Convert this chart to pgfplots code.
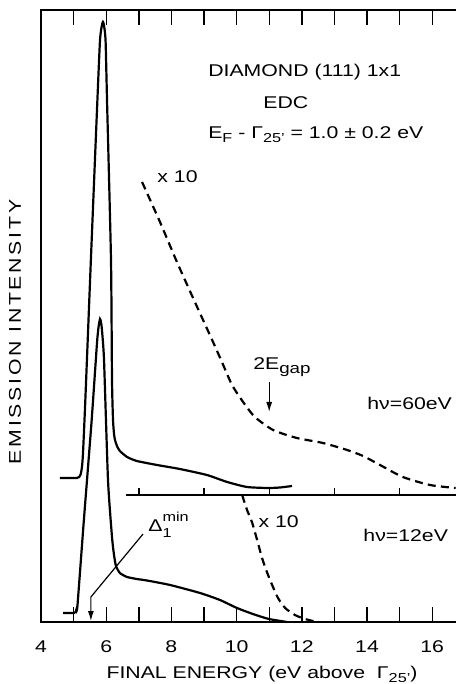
\documentclass[border=0pt]{standalone}
\usepackage{fontspec}
\setmainfont[FakeStretch=1.25]{Liberation Sans}
\newfontfamily\spacedf[FakeStretch=1.25,LetterSpace=16]{Liberation Sans}
\usepackage{pgfplots}
\pgfplotsset{compat=1.18}
\usetikzlibrary{arrows.meta}
\newcommand{\sml}{\fontsize{6.5}{7}\selectfont}
\newcommand{\sub}[1]{\raisebox{-0.45ex}{\sml #1}}
\begin{document}
\begin{tikzpicture}[font=\fontsize{8.5}{10}\selectfont]
\useasboundingbox (-20.5pt,-31pt) rectangle (207.5pt,311pt);
\begin{axis}[
  at={(0,0)}, anchor=south west,
  scale only axis, width=207.5pt, height=306pt,
  xmin=4, xmax=16.73, ymin=0, ymax=612,
  clip=false,
  axis line style={draw=none},
  ytick=\empty,
  xtick={4,6,...,16}, minor xtick={5,7,...,15},
  tick align=inside,
  major tick length=7.5pt, minor tick length=7.5pt,
  tick style={black, line width=0.7pt},
  xticklabel pos=bottom,
  xticklabel style={yshift=-6pt},
  /pgf/number format/assume math mode=true,
]
% frame: left, top, bottom
\draw[line width=0.8pt] (rel axis cs:1,1) -- (rel axis cs:0,1) -- (rel axis cs:0,0) -- (rel axis cs:1,0);

% offset baseline of the upper spectrum
\addplot[black, line width=0.8pt] coordinates {(6.61,127) (16.73,127)};
\pgfplotsinvokeforeach{7,9,11,13,15}{
  \draw[line width=0.7pt] (axis cs:#1,127) -- (axis cs:#1,134);
}

% h nu = 60 eV, solid
\addplot[black, line width=1.1pt, smooth, tension=0.35] coordinates {
(4.58,144) (5.10,144) (5.17,145) (5.22,148) (5.26,156) (5.29,170)
(5.36,222) (5.53,362) (5.73,522) (5.81,582) (5.87,597) (5.90,600) (5.93,597)
(5.98,582) (6.025,522) (6.147,362) (6.178,242) (6.209,202) (6.24,188)
(6.27,182) (6.33,176) (6.42,171) (6.64,165) (6.94,161) (7.56,157)
(8.26,153) (9.09,147) (9.71,140) (10.32,135) (10.96,134) (11.33,134.5) (11.70,136)
};

% h nu = 60 eV, x10 dashed
\addplot[black, line width=1.1pt, dash pattern=on 4pt off 2.6pt, smooth, tension=0.4] coordinates {
(7.10,440) (7.65,400) (8.17,360) (8.72,320) (9.25,282) (9.55,260) (9.86,237)
(10.20,220) (10.56,205) (11.12,192) (11.85,184) (12.65,179) (13.39,172)
(13.88,166) (14.40,157) (15.10,145) (15.93,137) (16.72,134)
};

% h nu = 12 eV, solid
\addplot[black, line width=1.1pt, smooth, tension=0.35] coordinates {
(4.675,9) (5.01,9) (5.06,10) (5.09,13) (5.12,17) (5.32,104) (5.55,200)
(5.72,280) (5.77,296) (5.81,303) (5.84,300) (5.87,292) (5.933,262)
(6.055,142) (6.178,85) (6.24,67) (6.30,56) (6.42,49) (6.64,45) (6.94,43)
(7.25,41.5) (7.96,37) (8.88,29) (9.49,22) (10.01,14) (10.50,8) (10.99,3) (11.55,0)
};

% h nu = 12 eV, x10 dashed
\addplot[black, line width=1.1pt, dash pattern=on 4pt off 2.6pt, smooth, tension=0.4] coordinates {
(10.17,127) (10.32,112) (10.47,100) (10.63,82) (10.78,64) (10.93,50)
(11.09,37) (11.27,24) (11.49,14) (11.79,7) (12.10,3) (12.47,0)
};

% arrows
\draw[line width=0.6pt, -{Latex[length=5pt,width=3pt]}] (axis cs:11.0,240) -- (axis cs:11.0,210);
\draw[line width=0.6pt, -{Latex[length=5pt,width=3pt]}] (axis cs:7.13,88) -- (axis cs:5.53,25) -- (axis cs:5.53,1);

% texts
\node[anchor=west, inner sep=0pt] at (axis cs:9.12,550) {DIAMOND (111) 1x1};
\node[anchor=west, inner sep=0pt] at (axis cs:10.81,519) {EDC};
\node[anchor=west, inner sep=0pt] at (axis cs:9.12,487) {E\sub{F} - Γ\sub{25'} = 1.0 ± 0.2 eV};
\node[anchor=west, inner sep=0pt] at (axis cs:7.56,445) {x 10};
\node[anchor=west, inner sep=0pt] at (axis cs:10.50,255) {2E\raisebox{-0.5ex}{\fontsize{7.5}{8}\selectfont gap}};
\node[anchor=west, inner sep=0pt] at (axis cs:14.0,219) {hν=60eV};
\node[anchor=west, inner sep=0pt] at (axis cs:13.88,87) {hν=12eV};
\node[anchor=west, inner sep=0pt] at (axis cs:10.66,100) {x 10};
\node[anchor=west, inner sep=0pt] at (axis cs:7.28,97) {Δ\makebox[0pt][l]{\raisebox{1.1ex}{\sml min}}\raisebox{-0.7ex}{\sml 1}};
\node[inner sep=0pt] at (axis cs:10.78,-52) {FINAL ENERGY (eV above \ Γ\sub{25'})};
\node[rotate=90, inner sep=0pt] at (rel axis cs:-0.0627,0.474) {\spacedf\fontsize{8.5}{10}\selectfont EMISSION INTENSITY};
\end{axis}
\end{tikzpicture}
\end{document}
